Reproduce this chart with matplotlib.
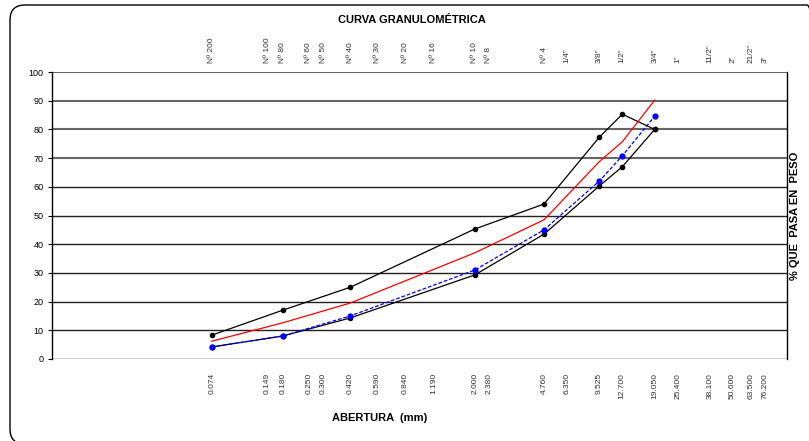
import matplotlib
matplotlib.use('Agg')
import matplotlib.pyplot as plt
from matplotlib.patches import FancyBboxPatch
from matplotlib.transforms import IdentityTransform
from matplotlib.ticker import NullLocator, FixedLocator

plt.rcParams['font.family'] = ['Liberation Sans', 'DejaVu Sans']

# sieve openings (mm) and names
aberturas = [0.074, 0.149, 0.180, 0.250, 0.300, 0.420, 0.590, 0.840, 1.190,
             2.000, 2.380, 4.760, 6.350, 9.525, 12.700, 19.050, 25.400,
             38.100, 50.600, 63.500, 76.200]
tamices = ['Nº 200', 'Nº 100', 'Nº 80', 'Nº 60', 'Nº 50', 'Nº 40', 'Nº 30',
           'Nº 20', 'Nº 16', 'Nº 10', 'Nº 8', 'Nº 4', '1/4"', '3/8"', '1/2"',
           '3/4"', '1"', '11/2"', '2"', '21/2"', '3"']

# curves
x_curva = [0.074, 0.180, 0.420, 2.000, 4.760, 9.525, 12.700, 19.050]
lim_sup = [8.3, 17, 25, 45.3, 54, 77.3, 85.3, 80]
lim_inf = [4.2, 8, 14.3, 29.3, 43.5, 60.3, 67, 80]
curva_media = [6.2, 12.6, 19.5, 37, 48.5, 68.8, 75.7, 90.2]
muestra = [4.2, 8, 15, 31, 45, 62, 70.8, 84.6]

fig = plt.figure(figsize=(8.09, 4.41), dpi=100)

# rounded border (partly cut off at right and bottom, like the original)
border = FancyBboxPatch((10, -3), 812, 439,
                        boxstyle='round,pad=0,rounding_size=15',
                        transform=IdentityTransform(), fill=False,
                        edgecolor='black', linewidth=1.0)
fig.patches.append(border)

ax = fig.add_axes([52 / 809, 1 - 359 / 441, 735 / 809, 287 / 441])
ax.set_xscale('log')
ax.set_xlim(0.01, 100)
ax.set_ylim(0, 100)

for v in range(0, 101, 10):
    ax.axhline(v, color='#222222' if v < 70 else '#666666',
               lw=1.0 if v < 70 else 1.5, zorder=1)

ax.plot(x_curva, lim_sup, color='black', lw=0.9, marker='o', ms=3, zorder=3)
ax.plot(x_curva, lim_inf, color='black', lw=0.9, marker='o', ms=3, zorder=3)
ax.plot(x_curva, curva_media, color='red', lw=0.9, zorder=3)
ax.plot(x_curva, muestra, color='blue', lw=0.9, ls='--', dashes=(3, 1.5),
        marker='o', ms=3.5, zorder=4)

ax.set_yticks(range(0, 101, 10))
ax.tick_params(axis='y', labelsize=6.5, length=3, width=0.8, direction='out', pad=3)
ax.xaxis.set_major_locator(FixedLocator(aberturas))
ax.xaxis.set_minor_locator(NullLocator())
ax.set_xticklabels(['%.3f' % a for a in aberturas], rotation=90, fontsize=6,
                   color='#333333')
ax.tick_params(axis='x', length=0, pad=10)

for s in ['top', 'bottom']:
    ax.spines[s].set_visible(False)
ax.spines['left'].set_linewidth(1.0)
ax.spines['right'].set_linewidth(1.0)

# sieve names on top
for a, t in zip(aberturas, tamices):
    ax.text(a, 1.03, t, transform=ax.get_xaxis_transform(), rotation=90,
            ha='center', va='bottom', fontsize=6, color='#333333')

fig.text(412 / 809, 1 - 20 / 441, 'CURVA GRANULOMÉTRICA', ha='center',
         va='center', fontsize=8, fontweight='bold')
fig.text(380 / 809, 1 - 418 / 441, 'ABERTURA  (mm)', ha='center',
         va='center', fontsize=8, fontweight='bold')
fig.text(795 / 809, 1 - 216 / 441, '% QUE  PASA EN  PESO', ha='center',
         va='center', rotation=90, fontsize=8, fontweight='bold')

fig.savefig('out.png', dpi=100)
